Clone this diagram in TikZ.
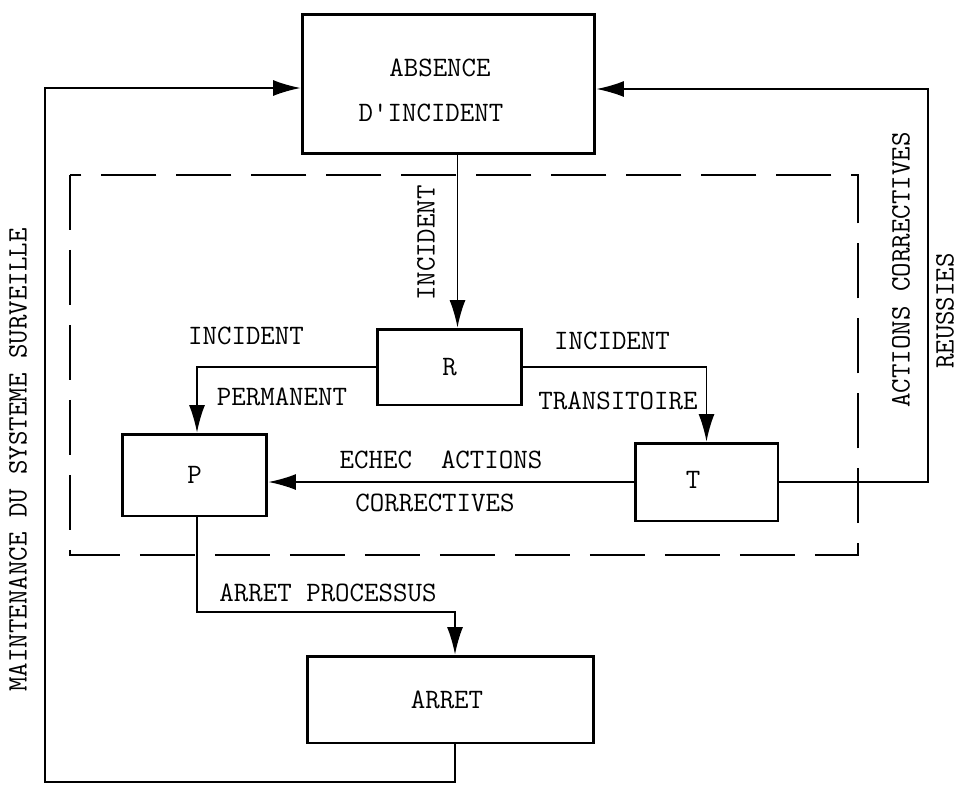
\documentclass[tikz,border=0pt]{standalone}
\usetikzlibrary{arrows.meta}
\begin{document}
\begin{tikzpicture}[x=0.02cm, y=-0.02cm,
    font=\ttfamily\fontsize{16}{19}\selectfont,
    box/.style={draw, line width=1.7pt, inner sep=0pt},
    arr/.style={-{Latex[length=0.55cm,width=0.32cm]}, line width=0.9pt},
    lbl/.style={inner sep=0pt},
    frame/.style={line width=1pt, dash pattern=on 1.1cm off 0.4cm}]
  \useasboundingbox (0,0) rectangle (960,785);
  % etats
  \node[box, minimum width=5.86cm, minimum height=2.8cm] (abs) at (448.5,84) {};
  \node[lbl] (absl) at (440,68) {ABSENCE};
  \node[lbl] (absl2) at (431,113) {D'INCIDENT};
  \node[box, minimum width=2.9cm, minimum height=1.52cm] (R) at (449.5,367) {R};
  \node[box, minimum width=2.86cm, minimum height=1.56cm] (T) at (706.5,482) {};
  \node[lbl] (Tl) at (693,480) {T};
  \node[box, minimum width=2.9cm, minimum height=1.64cm] (P) at (194.5,475) {P};
  \node[box, minimum width=5.74cm, minimum height=1.74cm] (arret) at (450.5,699.5) {};
  \node[lbl] (arretl) at (447,700) {ARRET};
  % cadre
  \draw[frame] (70,175) rectangle (858,555);
  \coordinate (rc) at (928,0);
  \coordinate (lb) at (45,782);
  \coordinate (pa) at (455,612);
  % transitions
  \draw[arr] ([xshift=0.18cm]abs.south) -- ([xshift=0.18cm]abs.south |- R.north);
  \draw[arr] (R.west) -| ([xshift=0.05cm]P.north);
  \draw[arr] (R.east) -| (T.north);
  \draw[arr] (T.west) -- (T.west -| P.east);
  \draw[arr] (T.east) -| ([yshift=-0.1cm]abs.east -| rc) -- ([yshift=-0.1cm]abs.east);
  \draw[arr] ([xshift=0.05cm]P.south) |- (pa) -- (pa |- arret.north);
  \draw[arr] ([xshift=0.09cm]arret.south) |- (lb) |- ([yshift=-0.08cm]abs.west);
  % textes
  \node[lbl, rotate=90] (tinc) at (426,243) {INCIDENT};
  \node[lbl] (tincp) at (246,336) {INCIDENT};
  \node[lbl] (tperm) at (282,397) {PERMANENT};
  \node[lbl] (tinct) at (612,341) {INCIDENT};
  \node[lbl] (ttrans) at (618,401) {TRANSITOIRE};
  \node[lbl] (techec) at (441,460) {ECHEC~~ACTIONS};
  \node[lbl] (tcorr) at (435,503) {CORRECTIVES};
  \node[lbl] (tproc) at (328,593) {ARRET PROCESSUS};
  \node[lbl, rotate=90] (tact) at (901,270) {ACTIONS CORRECTIVES};
  \node[lbl, rotate=90] (treus) at (945,311) {REUSSIES};
  \node[lbl, rotate=90] (tmaint) at (18,460) {MAINTENANCE DU SYSTEME SURVEILLE};
\end{tikzpicture}
\end{document}
